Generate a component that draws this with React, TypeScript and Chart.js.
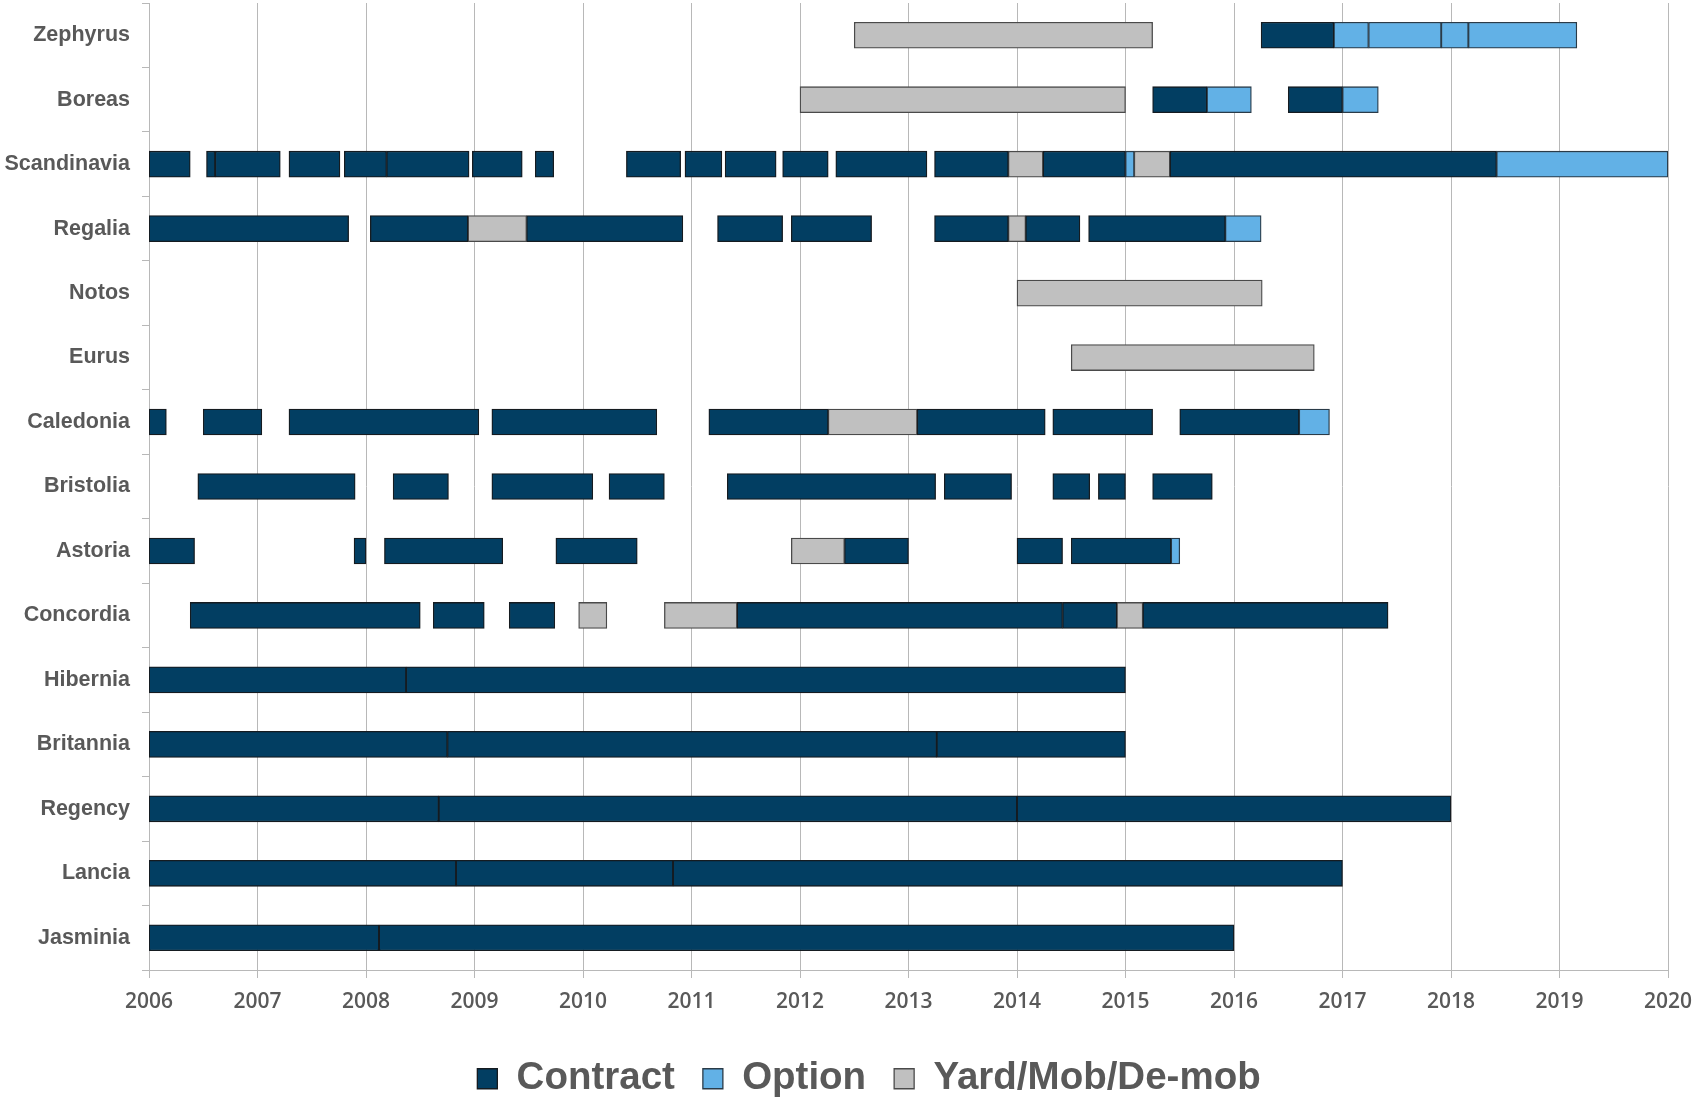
import React, { useEffect, useRef } from "react";
import { Chart, registerables } from "chart.js";

Chart.register(...registerables);

const vessels = [
  "Zephyrus", "Boreas", "Scandinavia", "Regalia", "Notos", "Eurus", "Caledonia",
  "Bristolia", "Astoria", "Concordia", "Hibernia", "Britannia", "Regency", "Lancia", "Jasminia",
];

const yearTicks = [2006, 2007, 2008, 2009, 2010, 2011, 2012, 2013, 2014, 2015, 2016, 2017, 2018, 2019, 2020];

const seriesNames = ["Contract", "Option", "Yard/Mob/De-mob"];

type Seg = [string, number, number];

const contractSegments: Seg[] = [
  ["Zephyrus", 2016.25, 2016.92],
  ["Boreas", 2015.25, 2015.75], ["Boreas", 2016.5, 2017.0],
  ["Scandinavia", 2006.0, 2006.38], ["Scandinavia", 2006.53, 2006.61], ["Scandinavia", 2006.61, 2007.21],
  ["Scandinavia", 2007.29, 2007.76], ["Scandinavia", 2007.8, 2008.19], ["Scandinavia", 2008.19, 2008.95],
  ["Scandinavia", 2008.98, 2009.44], ["Scandinavia", 2009.56, 2009.73], ["Scandinavia", 2010.4, 2010.9],
  ["Scandinavia", 2010.94, 2011.28], ["Scandinavia", 2011.31, 2011.78], ["Scandinavia", 2011.84, 2012.26],
  ["Scandinavia", 2012.33, 2013.17], ["Scandinavia", 2013.24, 2013.92], ["Scandinavia", 2014.24, 2015.0],
  ["Scandinavia", 2015.41, 2018.42],
  ["Regalia", 2006.0, 2007.84], ["Regalia", 2008.04, 2008.94], ["Regalia", 2009.48, 2010.92],
  ["Regalia", 2011.24, 2011.84], ["Regalia", 2011.92, 2012.66], ["Regalia", 2013.24, 2013.92],
  ["Regalia", 2014.08, 2014.58], ["Regalia", 2014.66, 2015.92],
  ["Caledonia", 2006.0, 2006.16], ["Caledonia", 2006.5, 2007.04], ["Caledonia", 2007.29, 2009.04],
  ["Caledonia", 2009.16, 2010.68], ["Caledonia", 2011.16, 2012.26], ["Caledonia", 2013.08, 2014.26],
  ["Caledonia", 2014.33, 2015.25], ["Caledonia", 2015.5, 2016.6],
  ["Bristolia", 2006.45, 2007.9], ["Bristolia", 2008.25, 2008.76], ["Bristolia", 2009.16, 2010.09],
  ["Bristolia", 2010.24, 2010.75], ["Bristolia", 2011.33, 2013.25], ["Bristolia", 2013.33, 2013.95],
  ["Bristolia", 2014.33, 2014.67], ["Bristolia", 2014.75, 2015.0], ["Bristolia", 2015.25, 2015.8],
  ["Astoria", 2006.0, 2006.42], ["Astoria", 2007.89, 2008.0], ["Astoria", 2008.17, 2009.26],
  ["Astoria", 2009.75, 2010.5], ["Astoria", 2012.41, 2013.0], ["Astoria", 2014.0, 2014.42],
  ["Astoria", 2014.5, 2015.42],
  ["Concordia", 2006.38, 2008.5], ["Concordia", 2008.62, 2009.09], ["Concordia", 2009.32, 2009.74],
  ["Concordia", 2011.42, 2014.42], ["Concordia", 2014.42, 2014.92], ["Concordia", 2015.16, 2017.42],
  ["Hibernia", 2006.0, 2008.37], ["Hibernia", 2008.37, 2015.0],
  ["Britannia", 2006.0, 2008.75], ["Britannia", 2008.75, 2013.26], ["Britannia", 2013.26, 2015.0],
  ["Regency", 2006.0, 2008.67], ["Regency", 2008.67, 2014.0], ["Regency", 2014.0, 2018.0],
  ["Lancia", 2006.0, 2008.83], ["Lancia", 2008.83, 2010.83], ["Lancia", 2010.83, 2017.0],
  ["Jasminia", 2006.0, 2008.12], ["Jasminia", 2008.12, 2016.0],
];

const optionSegments: Seg[] = [
  ["Zephyrus", 2016.92, 2017.24], ["Zephyrus", 2017.24, 2017.91], ["Zephyrus", 2017.91, 2018.16],
  ["Zephyrus", 2018.16, 2019.16],
  ["Boreas", 2015.75, 2016.16], ["Boreas", 2017.0, 2017.33],
  ["Scandinavia", 2015.0, 2015.08], ["Scandinavia", 2018.42, 2020.0],
  ["Regalia", 2015.92, 2016.25],
  ["Caledonia", 2016.6, 2016.88],
  ["Astoria", 2015.42, 2015.5],
];

const yardSegments: Seg[] = [
  ["Zephyrus", 2012.5, 2015.25],
  ["Boreas", 2012.0, 2015.0],
  ["Scandinavia", 2013.92, 2014.24], ["Scandinavia", 2015.08, 2015.41],
  ["Regalia", 2008.94, 2009.48], ["Regalia", 2013.92, 2014.08],
  ["Notos", 2014.0, 2016.26],
  ["Eurus", 2014.5, 2016.74],
  ["Caledonia", 2012.26, 2013.08],
  ["Astoria", 2011.92, 2012.41],
  ["Concordia", 2009.96, 2010.22], ["Concordia", 2010.75, 2011.42], ["Concordia", 2014.92, 2015.16],
];

const fillColors = ["#023e62", "#62b1e6", "#c0c0c0"];
const edgeColors = ["#151b20", "#2a3b48", "#4a4a4a"];

const toPoints = (segs: Seg[]) => segs.map(([name, s, e]) => ({ y: name, x: [s, e] }));

const legendShift = {
  id: "legendShift",
  afterLayout(chart: any) {
    const l = chart.legend;
    if (l) {
      l.left += 35;
      l.right += 35;
    }
  },
};

export default function App() {
  const canvasRef = useRef<HTMLCanvasElement | null>(null);

  useEffect(() => {
    if (!canvasRef.current) return;
    const groups = [contractSegments, optionSegments, yardSegments];
    const chart = new Chart(canvasRef.current, {
      type: "bar",
      data: {
        labels: vessels,
        datasets: groups.map((g, i) => ({
          label: seriesNames[i],
          data: toPoints(g) as any,
          backgroundColor: fillColors[i],
          borderColor: edgeColors[i],
          borderWidth: 1.3,
          borderSkipped: false,
          grouped: false,
          barThickness: 26,
        })),
      },
      plugins: [legendShift],
      options: {
        responsive: false,
        animation: false,
        indexAxis: "y",
        layout: { padding: { top: 3, right: 29, left: 0, bottom: 0 } },
        plugins: {
          tooltip: { enabled: false },
          legend: {
            position: "bottom",
            labels: {
              boxWidth: 20,
              boxHeight: 20,
              padding: 28,
              color: "#595959",
              font: { family: "'Liberation Sans', Arial, sans-serif", size: 38.5, weight: "bold" },
            },
          },
        },
        scales: {
          x: {
            type: "linear",
            min: yearTicks[0],
            max: yearTicks[yearTicks.length - 1],
            afterBuildTicks: (s: any) => {
              s.ticks = yearTicks.map((v) => ({ value: v }));
            },
            afterFit: (s: any) => {
              s.height = 61.5;
              s.paddingLeft = 0;
              s.paddingRight = 0;
            },
            grid: { color: "#b8b8b8", lineWidth: 1, tickLength: 8 },
            border: { color: "#b8b8b8" },
            ticks: {
              padding: 11.5,
              color: "#595959",
              font: { family: "'Open Sans', sans-serif", size: 21, weight: 600 },
              callback: (v: any) => String(v),
            },
          },
          y: {
            type: "category",
            offset: true,
            afterFit: (s: any) => {
              s.width = 149;
              s.paddingTop = 0;
              s.paddingBottom = 0;
            },
            grid: { drawOnChartArea: false, offset: true, color: "#b8b8b8", tickLength: 7 },
            border: { color: "#b8b8b8" },
            ticks: {
              padding: 12,
              color: "#595959",
              font: { family: "'Liberation Sans', Arial, sans-serif", size: 21.5, weight: "bold" },
            },
          },
        },
      },
    });
    return () => chart.destroy();
  }, []);

  return (
    <div style={{ position: "fixed", left: 0, top: 0, width: 1697, height: 1108, background: "#ffffff" }}>
      <canvas ref={canvasRef} width={1697} height={1108} style={{ display: "block" }} />
    </div>
  );
}
